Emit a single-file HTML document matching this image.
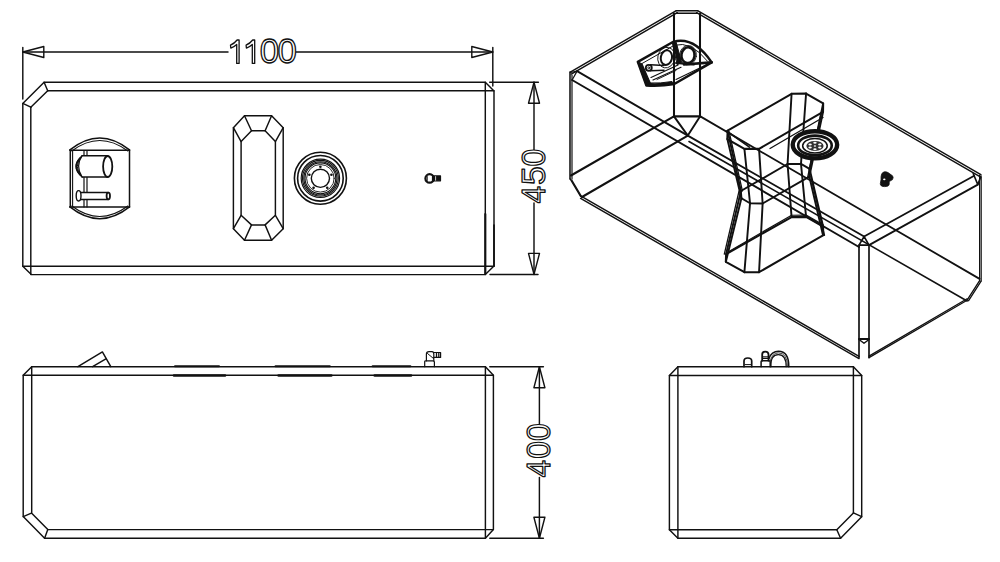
<!DOCTYPE html>
<html><head><meta charset="utf-8"><style>
html,body{margin:0;padding:0;background:#fff;width:1000px;height:562px;overflow:hidden}
svg{display:block}
</style></head><body>
<svg width="1000" height="562" viewBox="0 0 1000 562" stroke-linecap="round" stroke-linejoin="round">
<rect width="1000" height="562" fill="#fff"/>
<g>
<path d="M22.80 47.50 L22.80 99.00" stroke="#111" stroke-width="1.45" fill="none"/>
<path d="M492.80 47.50 L492.80 86.00" stroke="#111" stroke-width="1.45" fill="none"/>
<path d="M22.80 52.00 L228.00 52.00" stroke="#111" stroke-width="1.45" fill="none"/>
<path d="M296.00 52.00 L492.80 52.00" stroke="#111" stroke-width="1.45" fill="none"/>
<path d="M22.8 52 L43.8 57.5 L43.8 46.5 Z" stroke="#111" stroke-width="1.4" fill="none"/>
<path d="M492.8 52 L471.8 46.5 L471.8 57.5 Z" stroke="#111" stroke-width="1.4" fill="none"/>
<path d="M236.7 63.4 L236.7 44.4 Q234.2 46.699999999999996 230.79999999999998 48.099999999999994 L230.5 45.199999999999996 Q234.5 43.3 237.1 40.0 L239.1 40.0 L239.1 63.4 Z" stroke="#111" stroke-width="1.3" fill="#fff"/>
<path d="M252.3 63.4 L252.3 44.4 Q249.8 46.699999999999996 246.4 48.099999999999994 L246.10000000000002 45.199999999999996 Q250.10000000000002 43.3 252.70000000000002 40.0 L254.70000000000002 40.0 L254.70000000000002 63.4 Z" stroke="#111" stroke-width="1.3" fill="#fff"/>
<g transform="translate(269.5 63.0) rotate(0)"><text x="0" y="0" transform="scale(1.0 1)" font-family="Liberation Sans, sans-serif" font-size="34.8" fill="#fff" stroke="#111" stroke-width="1.3" text-anchor="middle">0</text></g>
<g transform="translate(287.2 63.0) rotate(0)"><text x="0" y="0" transform="scale(1.0 1)" font-family="Liberation Sans, sans-serif" font-size="34.8" fill="#fff" stroke="#111" stroke-width="1.3" text-anchor="middle">0</text></g>
<path d="M44.10 82.20 L485.30 82.20 L494.00 91.00 L494.00 266.00 L485.30 274.60 L31.30 274.60 L22.80 266.30 L22.80 103.40 L44.10 82.20" stroke="#111" stroke-width="1.45" fill="none"/>
<path d="M47.70 90.80 L494.00 90.80" stroke="#111" stroke-width="1.45" fill="none"/>
<path d="M44.10 82.20 L47.70 90.80" stroke="#111" stroke-width="1.45" fill="none"/>
<path d="M22.80 103.40 L30.80 107.20" stroke="#111" stroke-width="1.45" fill="none"/>
<path d="M47.70 90.80 L30.80 107.20" stroke="#111" stroke-width="1.45" fill="none"/>
<path d="M30.80 107.20 L30.80 274.60" stroke="#111" stroke-width="1.45" fill="none"/>
<path d="M485.30 82.20 L485.30 274.60" stroke="#111" stroke-width="1.45" fill="none"/>
<path d="M485.30 214.00 L485.30 274.00" stroke="#111" stroke-width="2.1" fill="none"/>
<path d="M494.00 225.00 L494.00 266.00" stroke="#111" stroke-width="1.7" fill="none"/>
<path d="M22.80 266.30 L494.00 266.30" stroke="#111" stroke-width="1.45" fill="none"/>
<path d="M489.70 82.20 L538.40 82.20" stroke="#111" stroke-width="1.45" fill="none"/>
<path d="M490.00 274.40 L538.00 274.40" stroke="#111" stroke-width="1.45" fill="none"/>
<path d="M534.00 82.20 L534.00 150.00" stroke="#111" stroke-width="1.45" fill="none"/>
<path d="M534.00 203.00 L534.00 274.40" stroke="#111" stroke-width="1.45" fill="none"/>
<path d="M534 82.2 L528.5 103.2 L539.5 103.2 Z" stroke="#111" stroke-width="1.4" fill="none"/>
<path d="M534 274.4 L539.5 253.39999999999998 L528.5 253.39999999999998 Z" stroke="#111" stroke-width="1.4" fill="none"/>
<g transform="translate(545.2 194.5) rotate(-90)"><text x="0" y="0" transform="scale(0.92 1)" font-family="Liberation Sans, sans-serif" font-size="34" fill="#fff" stroke="#111" stroke-width="1.3" text-anchor="middle">4</text></g>
<g transform="translate(545.2 175.6) rotate(-90)"><text x="0" y="0" transform="scale(1.0 1)" font-family="Liberation Sans, sans-serif" font-size="33.6" fill="#fff" stroke="#111" stroke-width="1.3" text-anchor="middle">5</text></g>
<g transform="translate(545.2 157.75) rotate(-90)"><text x="0" y="0" transform="scale(0.95 1)" font-family="Liberation Sans, sans-serif" font-size="33.6" fill="#fff" stroke="#111" stroke-width="1.3" text-anchor="middle">0</text></g>
<path d="M69.9 149.9 Q99.7 126 129.5 149.9" stroke="#111" stroke-width="1.5" fill="none"/>
<path d="M71.8 151 Q99.7 130 127.8 151" stroke="#111" stroke-width="1.1" fill="none"/>
<path d="M69.9 206.9 Q99.7 230.5 129.5 206.9" stroke="#111" stroke-width="1.5" fill="none"/>
<path d="M71.8 206 Q99.7 227 127.8 206" stroke="#111" stroke-width="1.1" fill="none"/>
<path d="M70.30 149.90 L70.30 206.90" stroke="#111" stroke-width="1.5" fill="none"/>
<path d="M129.50 149.90 L129.50 206.90" stroke="#111" stroke-width="1.5" fill="none"/>
<path d="M69.90 150.30 L129.50 150.30" stroke="#111" stroke-width="1.6" fill="none"/>
<path d="M69.90 206.90 L129.50 206.90" stroke="#111" stroke-width="1.5" fill="none"/>
<path d="M72.60 150.80 L72.60 206.90" stroke="#111" stroke-width="1.1" fill="none"/>
<path d="M84.00 150.80 L84.00 206.90" stroke="#111" stroke-width="1.2" fill="none"/>
<path d="M87.00 150.80 L87.00 206.90" stroke="#111" stroke-width="1.2" fill="none"/>
<path d="M82.1 155.7 L107.7 155.7 L107.7 177 L82.1 177 Z" stroke="#111" stroke-width="0" fill="#fff"/>
<path d="M82.10 155.70 L107.70 155.70" stroke="#111" stroke-width="1.4" fill="none"/>
<path d="M82.10 177.00 L107.70 177.00" stroke="#111" stroke-width="1.4" fill="none"/>
<path d="M82.1 155.7 Q70 166.4 82.1 177 Q75 166.4 82.1 155.7 Z" stroke="#111" stroke-width="1.2" fill="#fff"/>
<path d="M82.1 155.7 Q72.2 166.4 82.1 177" stroke="#111" stroke-width="1.0" fill="none"/>
<path d="M80.5 157.8 Q72 166.4 80.5 175" stroke="#111" stroke-width="1.6" fill="none"/>
<ellipse cx="107.7" cy="166.5" rx="4.6" ry="10.5" transform="rotate(0 107.7 166.5)" stroke="#111" stroke-width="1.8" fill="#fff"/>
<path d="M78.4 192.5 L108.3 192.5 L108.3 199.5 L78.4 199.5 Z" stroke="#111" stroke-width="0" fill="#fff"/>
<path d="M78.40 192.50 L108.30 192.50" stroke="#111" stroke-width="1.3" fill="none"/>
<path d="M78.40 199.50 L108.30 199.50" stroke="#111" stroke-width="1.3" fill="none"/>
<ellipse cx="78.6" cy="195.8" rx="2.4" ry="5.2" transform="rotate(0 78.6 195.8)" stroke="#111" stroke-width="1.4" fill="#fff"/>
<ellipse cx="108.3" cy="196" rx="1.7" ry="3.3" transform="rotate(0 108.3 196)" stroke="#111" stroke-width="1.8" fill="#fff"/>
<path d="M244.50 115.80 L271.60 115.80 L283.20 127.70 L283.20 228.70 L271.60 240.30 L244.50 240.30 L233.40 228.70 L233.40 127.70 L244.50 115.80" stroke="#111" stroke-width="1.45" fill="none"/>
<path d="M251.50 130.80 L265.10 130.80 L275.40 141.60 L275.40 215.30 L265.10 224.90 L251.50 224.90 L241.10 215.30 L241.10 141.60 L251.50 130.80" stroke="#111" stroke-width="1.45" fill="none"/>
<path d="M244.50 115.80 L251.50 130.80" stroke="#111" stroke-width="1.45" fill="none"/>
<path d="M271.60 115.80 L265.10 130.80" stroke="#111" stroke-width="1.45" fill="none"/>
<path d="M283.20 127.70 L275.40 141.60" stroke="#111" stroke-width="1.45" fill="none"/>
<path d="M283.20 228.70 L275.40 215.30" stroke="#111" stroke-width="1.45" fill="none"/>
<path d="M271.60 240.30 L265.10 224.90" stroke="#111" stroke-width="1.45" fill="none"/>
<path d="M244.50 240.30 L251.50 224.90" stroke="#111" stroke-width="1.45" fill="none"/>
<path d="M233.40 228.70 L241.10 215.30" stroke="#111" stroke-width="1.45" fill="none"/>
<path d="M233.40 127.70 L241.10 141.60" stroke="#111" stroke-width="1.45" fill="none"/>
<circle cx="320.4" cy="178.3" r="26.0" stroke="#111" stroke-width="1.6" fill="none"/>
<circle cx="320.4" cy="178.3" r="22.8" stroke="#111" stroke-width="1.6" fill="none"/>
<circle cx="320.4" cy="178.3" r="19.2" stroke="#111" stroke-width="1.15" fill="none"/>
<circle cx="320.4" cy="178.3" r="17.9" stroke="#111" stroke-width="1.15" fill="none"/>
<circle cx="320.4" cy="178.3" r="16.6" stroke="#111" stroke-width="1.15" fill="none"/>
<circle cx="320.4" cy="178.3" r="15.4" stroke="#111" stroke-width="1.15" fill="none"/>
<circle cx="320.4" cy="178.3" r="13.8" stroke="#111" stroke-width="0.9" fill="none"/>
<circle cx="320.4" cy="178.3" r="9.1" stroke="#111" stroke-width="1.4" fill="none"/>
<circle cx="320.40" cy="166.70" r="1.3" fill="#111"/>
<circle cx="331.43" cy="174.72" r="1.3" fill="#111"/>
<circle cx="327.22" cy="187.68" r="1.3" fill="#111"/>
<circle cx="313.58" cy="187.68" r="1.3" fill="#111"/>
<circle cx="309.37" cy="174.72" r="1.3" fill="#111"/>
<circle cx="429.6" cy="178.4" r="4.2" stroke="#111" stroke-width="2.2" fill="none"/>
<path d="M432.60 175.20 L432.60 181.60" stroke="#111" stroke-width="1.4" fill="none"/>
<path d="M427.20 176.50 L427.20 180.50" stroke="#111" stroke-width="1.0" fill="none"/>
<path d="M433.5 175.9 L440.5 175.9 L440.5 180.8 L433.5 180.8 Z" stroke="#111" stroke-width="1.2" fill="#111"/>
<path d="M435.60 176.60 L435.60 180.20" stroke="#fff" stroke-width="0.8" fill="none"/>
<path d="M31.70 366.70 L485.40 366.70 L493.40 375.20 L493.40 529.60 L485.40 538.20 L44.60 538.20 L23.20 516.60 L23.20 375.30 L31.70 366.70" stroke="#111" stroke-width="1.45" fill="none"/>
<path d="M23.20 375.30 L493.40 375.30" stroke="#111" stroke-width="1.45" fill="none"/>
<path d="M31.70 366.70 L31.70 513.20 L47.80 529.60 L493.40 529.60" stroke="#111" stroke-width="1.45" fill="none"/>
<path d="M485.40 366.70 L485.40 538.20" stroke="#111" stroke-width="1.45" fill="none"/>
<path d="M23.20 516.60 L31.40 513.20" stroke="#111" stroke-width="1.45" fill="none"/>
<path d="M44.60 538.20 L47.80 529.60" stroke="#111" stroke-width="1.45" fill="none"/>
<path d="M175.00 366.30 L219.00 366.30" stroke="#111" stroke-width="2.0" fill="none"/>
<path d="M275.50 366.30 L329.80 366.30" stroke="#111" stroke-width="2.0" fill="none"/>
<path d="M372.60 366.30 L410.40 366.30" stroke="#111" stroke-width="2.0" fill="none"/>
<path d="M174.00 375.50 L225.00 375.50" stroke="#111" stroke-width="2.6" fill="none"/>
<path d="M278.60 375.50 L331.30 375.50" stroke="#111" stroke-width="2.6" fill="none"/>
<path d="M374.70 375.50 L411.00 375.50" stroke="#111" stroke-width="2.6" fill="none"/>
<path d="M77.90 366.70 L102.40 351.90 L110.80 366.70" stroke="#111" stroke-width="1.45" fill="none"/>
<path d="M92.60 366.70 L105.90 358.90" stroke="#111" stroke-width="1.45" fill="none"/>
<path d="M424.7 366.7 L424.7 361.5 Q424.7 360.8 426 360.8 L433 360.8 Q434.4 360.8 434.4 362 L434.4 366.7" stroke="#111" stroke-width="1.2" fill="none"/>
<path d="M426.4 360.8 L426.4 354 Q426.4 351.7 429 351.7 L432 351.7 Q433.8 351.7 433.8 354 L433.8 360.8" stroke="#111" stroke-width="1.2" fill="none"/>
<path d="M427.50 353.50 L433.50 358.50" stroke="#111" stroke-width="1.0" fill="none"/>
<path d="M433.8 352.5 L440.6 352.5 L440.6 357.4 L433.8 357.4" stroke="#111" stroke-width="1.2" fill="none"/>
<path d="M436.50 352.80 L436.50 357.20" stroke="#111" stroke-width="1.3" fill="none"/>
<path d="M438.80 352.80 L438.80 357.20" stroke="#111" stroke-width="1.3" fill="none"/>
<path d="M489.80 366.80 L543.40 366.80" stroke="#111" stroke-width="1.45" fill="none"/>
<path d="M489.80 538.20 L543.40 538.20" stroke="#111" stroke-width="1.45" fill="none"/>
<path d="M539.40 366.80 L539.40 424.00" stroke="#111" stroke-width="1.45" fill="none"/>
<path d="M539.40 477.50 L539.40 538.20" stroke="#111" stroke-width="1.45" fill="none"/>
<path d="M539.4 366.8 L533.9 387.8 L544.9 387.8 Z" stroke="#111" stroke-width="1.4" fill="none"/>
<path d="M539.4 538.2 L544.9 517.2 L533.9 517.2 Z" stroke="#111" stroke-width="1.4" fill="none"/>
<g transform="translate(550.4 468.6) rotate(-90)"><text x="0" y="0" transform="scale(0.92 1)" font-family="Liberation Sans, sans-serif" font-size="34" fill="#fff" stroke="#111" stroke-width="1.3" text-anchor="middle">4</text></g>
<g transform="translate(550.4 449.9) rotate(-90)"><text x="0" y="0" transform="scale(0.95 1)" font-family="Liberation Sans, sans-serif" font-size="33.6" fill="#fff" stroke="#111" stroke-width="1.3" text-anchor="middle">0</text></g>
<g transform="translate(550.4 432.2) rotate(-90)"><text x="0" y="0" transform="scale(0.95 1)" font-family="Liberation Sans, sans-serif" font-size="33.6" fill="#fff" stroke="#111" stroke-width="1.3" text-anchor="middle">0</text></g>
<path d="M677.90 366.70 L853.40 366.70 L861.70 375.40 L861.70 516.70 L840.60 538.20 L677.90 538.20 L669.40 529.70 L669.40 375.40 L677.90 366.70" stroke="#111" stroke-width="1.45" fill="none"/>
<path d="M669.40 375.40 L861.70 375.40" stroke="#111" stroke-width="1.45" fill="none"/>
<path d="M677.90 366.70 L677.90 538.20" stroke="#111" stroke-width="1.45" fill="none"/>
<path d="M853.40 366.70 L853.40 512.90 L836.80 529.70 L669.40 529.70" stroke="#111" stroke-width="1.45" fill="none"/>
<path d="M853.40 512.90 L861.70 516.70" stroke="#111" stroke-width="1.45" fill="none"/>
<path d="M836.80 529.70 L840.60 538.20" stroke="#111" stroke-width="1.45" fill="none"/>
<path d="M744 366.7 L744 361 Q744 358 747.8 358 Q751.7 358 751.7 361 L751.7 366.7" stroke="#111" stroke-width="1.7" fill="none"/>
<path d="M745.00 364.60 L751.00 364.60" stroke="#111" stroke-width="1.0" fill="none"/>
<rect x="747" y="360" width="1.8" height="1.6" fill="#fff"/>
<path d="M761.1 366.7 L761.1 361.5 Q761.1 360.7 762.2 360.7 L769 360.7 Q770.2 360.7 770.2 361.8 L770.2 366.7" stroke="#111" stroke-width="1.5" fill="none"/>
<path d="M762.2 360.7 L762.2 354.5 Q762.2 351.6 765.3 351.6 Q768.5 351.6 768.5 354.5 L768.5 360.7" stroke="#111" stroke-width="1.8" fill="none"/>
<path d="M762.60 358.40 L768.20 358.40" stroke="#111" stroke-width="1.2" fill="none"/>
<path d="M762.60 356.80 L768.20 356.80" stroke="#111" stroke-width="1.0" fill="none"/>
<rect x="764.2" y="353.6" width="2" height="1.6" fill="#fff"/>
<path d="M769 358.5 Q771.5 351.3 778.5 351.3 Q788.8 351.3 788.8 366.7" stroke="#111" stroke-width="1.5" fill="none"/>
<path d="M770.2 361 Q772 353 778.4 352.9 Q787.5 352.9 787.5 366.7" stroke="#111" stroke-width="0.8" fill="none"/>
<path d="M771 366.7 Q770.5 354.6 778.3 354.6 Q786.2 354.6 786.2 366.7" stroke="#111" stroke-width="1.2" fill="none"/>
<path d="M570.30 72.10 L676.30 10.70" stroke="#111" stroke-width="1.44" fill="none"/>
<path d="M571.30 74.10 L677.30 12.70" stroke="#111" stroke-width="1.44" fill="none"/>
<path d="M676.30 10.70 L697.60 10.70" stroke="#111" stroke-width="1.44" fill="none"/>
<path d="M676.30 13.30 L697.60 13.30" stroke="#111" stroke-width="1.44" fill="none"/>
<path d="M697.60 10.70 L980.90 174.60" stroke="#111" stroke-width="1.44" fill="none"/>
<path d="M696.60 12.70 L979.90 176.60" stroke="#111" stroke-width="1.44" fill="none"/>
<path d="M674.00 13.50 L674.00 116.40" stroke="#111" stroke-width="2.04" fill="none"/>
<path d="M700.00 13.50 L700.00 116.40" stroke="#111" stroke-width="2.04" fill="none"/>
<path d="M674.00 116.40 L700.00 116.40" stroke="#111" stroke-width="2.4" fill="none"/>
<path d="M674.00 116.40 L687.80 135.60 L700.00 116.40" stroke="#111" stroke-width="1.92" fill="none"/>
<path d="M570.00 72.00 L570.00 179.00" stroke="#111" stroke-width="1.56" fill="none"/>
<path d="M572.00 75.00 L572.00 179.00" stroke="#111" stroke-width="1.2" fill="none"/>
<path d="M570.20 179.00 L580.60 196.50" stroke="#111" stroke-width="1.44" fill="none"/>
<path d="M571.70 180.00 L582.10 197.50" stroke="#111" stroke-width="1.44" fill="none"/>
<path d="M580.60 195.80 L859.00 356.30" stroke="#111" stroke-width="1.44" fill="none"/>
<path d="M580.60 198.40 L859.00 358.60" stroke="#111" stroke-width="1.44" fill="none"/>
<path d="M859.00 245.10 L859.00 357.60" stroke="#111" stroke-width="1.68" fill="none"/>
<path d="M869.00 245.10 L869.00 357.60" stroke="#111" stroke-width="1.68" fill="none"/>
<path d="M864.10 236.50 L859.00 245.10 L869.00 245.10 L864.10 236.50" stroke="#111" stroke-width="1.56" fill="none"/>
<path d="M859.00 339.00 L869.00 339.00" stroke="#111" stroke-width="1.92" fill="none"/>
<path d="M859.00 339.50 L864.00 343.30 L869.00 339.50" stroke="#111" stroke-width="1.44" fill="none"/>
<path d="M869.00 357.60 L967.10 300.20" stroke="#111" stroke-width="1.32" fill="none"/>
<path d="M869.00 356.10 L967.10 298.70" stroke="#111" stroke-width="1.32" fill="none"/>
<path d="M967.10 300.20 L979.60 280.70" stroke="#111" stroke-width="1.32" fill="none"/>
<path d="M968.60 300.70 L981.10 281.20" stroke="#111" stroke-width="1.32" fill="none"/>
<path d="M979.60 175.00 L979.60 280.70" stroke="#111" stroke-width="1.2" fill="none"/>
<path d="M981.20 177.00 L981.20 281.00" stroke="#111" stroke-width="1.2" fill="none"/>
<path d="M973.20 173.50 L977.80 184.60 L981.00 176.00" stroke="#111" stroke-width="1.62" fill="none"/>
<path d="M570.50 72.50 L577.10 71.10 L572.10 80.00" stroke="#111" stroke-width="1.2" fill="none"/>
<path d="M577.10 71.10 L687.80 135.60" stroke="#111" stroke-width="1.7999999999999998" fill="none"/>
<path d="M687.80 135.60 L864.10 236.50" stroke="#111" stroke-width="1.7999999999999998" fill="none"/>
<path d="M572.10 80.00 L859.00 247.00" stroke="#111" stroke-width="1.92" fill="none"/>
<path d="M864.10 236.50 L974.20 175.70" stroke="#111" stroke-width="1.7999999999999998" fill="none"/>
<path d="M869.00 245.10 L977.80 184.60" stroke="#111" stroke-width="1.7999999999999998" fill="none"/>
<path d="M571.00 175.50 L673.90 116.40" stroke="#111" stroke-width="2.04" fill="none"/>
<path d="M582.00 197.00 L687.80 135.60" stroke="#111" stroke-width="2.04" fill="none"/>
<path d="M700.30 116.40 L979.60 278.90" stroke="#111" stroke-width="1.7999999999999998" fill="none"/>
<path d="M689.00 141.50 L967.10 301.00" stroke="#111" stroke-width="1.56" fill="none"/>
<path d="M806.08 93.55 L823.16 103.41 L823.02 111.94 L759.05 148.88 L744.41 148.88 L727.34 139.02 L727.61 130.72 L791.58 93.79 L806.08 93.55" stroke="#111" stroke-width="2.04" fill="none"/>
<path d="M800.98 163.88 L809.60 168.86 L809.31 176.58 L762.63 203.52 L750.03 203.26 L741.41 198.28 L740.89 190.97 L787.57 164.02 L800.98 163.88" stroke="#111" stroke-width="1.92" fill="none"/>
<path d="M806.08 216.87 L823.16 226.73 L823.02 235.26 L759.05 272.20 L744.41 272.20 L725.84 261.84 L726.11 254.04 L791.58 217.11 L806.08 216.87" stroke="#111" stroke-width="2.04" fill="none"/>
<path d="M806.08 93.55 L800.98 163.88" stroke="#111" stroke-width="1.92" fill="none"/>
<path d="M800.98 163.88 L806.08 216.87" stroke="#111" stroke-width="1.92" fill="none"/>
<path d="M823.16 103.41 L809.60 168.86" stroke="#111" stroke-width="1.92" fill="none"/>
<path d="M809.60 168.86 L823.16 226.73" stroke="#111" stroke-width="1.92" fill="none"/>
<path d="M823.02 111.94 L809.31 176.58" stroke="#111" stroke-width="1.92" fill="none"/>
<path d="M809.31 176.58 L823.02 235.26" stroke="#111" stroke-width="1.92" fill="none"/>
<path d="M759.05 148.88 L762.63 203.52" stroke="#111" stroke-width="1.92" fill="none"/>
<path d="M762.63 203.52 L759.05 272.20" stroke="#111" stroke-width="1.92" fill="none"/>
<path d="M744.41 148.88 L750.03 203.26" stroke="#111" stroke-width="1.92" fill="none"/>
<path d="M750.03 203.26 L744.41 272.20" stroke="#111" stroke-width="1.92" fill="none"/>
<path d="M727.34 139.02 L741.41 198.28" stroke="#111" stroke-width="1.92" fill="none"/>
<path d="M741.41 198.28 L725.84 261.84" stroke="#111" stroke-width="1.92" fill="none"/>
<path d="M727.61 130.72 L740.89 190.97" stroke="#111" stroke-width="1.92" fill="none"/>
<path d="M740.89 190.97 L726.11 254.04" stroke="#111" stroke-width="1.92" fill="none"/>
<path d="M791.58 93.79 L787.57 164.02" stroke="#111" stroke-width="1.92" fill="none"/>
<path d="M787.57 164.02 L791.58 217.11" stroke="#111" stroke-width="1.92" fill="none"/>
<path d="M726.70 131.00 L749.40 147.10" stroke="#111" stroke-width="1.56" fill="none"/>
<path d="M770.00 148.50 L823.00 117.50" stroke="#111" stroke-width="1.32" fill="none"/>
<path d="M729.11 131.72 L742.39 190.97" stroke="#111" stroke-width="1.32" fill="none"/>
<path d="M739.09 190.97 L724.31 254.04" stroke="#111" stroke-width="1.32" fill="none"/>
<path d="M821.52 111.94 L807.81 176.58" stroke="#111" stroke-width="1.32" fill="none"/>
<path d="M810.81 176.58 L824.52 235.26" stroke="#111" stroke-width="1.32" fill="none"/>
<path d="M727.61 252.16 L791.58 215.23 L806.08 215.00 L823.16 224.86 L823.02 233.38" stroke="#111" stroke-width="1.2" fill="none"/>
<ellipse cx="814.94726" cy="144.77999999999997" rx="22.2" ry="13.6" transform="rotate(0 814.94726 144.77999999999997)" stroke="#111" stroke-width="4.4" fill="#fff"/>
<ellipse cx="814.94726" cy="145.48" rx="16.8" ry="9.9" transform="rotate(0 814.94726 145.48)" stroke="#111" stroke-width="2.6" fill="none"/>
<ellipse cx="814.94726" cy="145.77999999999997" rx="12.3" ry="7.3" transform="rotate(0 814.94726 145.77999999999997)" stroke="#111" stroke-width="1.5" fill="none"/>
<ellipse cx="814.94726" cy="145.98" rx="8.6" ry="5.1" transform="rotate(0 814.94726 145.98)" stroke="#111" stroke-width="0" fill="#333"/>
<ellipse cx="819.80" cy="147.58" rx="1.7" ry="1.0" fill="#fff"/>
<ellipse cx="814.95" cy="149.18" rx="1.7" ry="1.0" fill="#fff"/>
<ellipse cx="810.10" cy="147.58" rx="1.7" ry="1.0" fill="#fff"/>
<ellipse cx="810.10" cy="144.38" rx="1.7" ry="1.0" fill="#fff"/>
<ellipse cx="814.95" cy="142.78" rx="1.7" ry="1.0" fill="#fff"/>
<ellipse cx="819.80" cy="144.38" rx="1.7" ry="1.0" fill="#fff"/>
<ellipse cx="814.95" cy="145.98" rx="1.2" ry="0.8" fill="#fff"/>
<path d="M881 179.5 Q880.5 172.5 884.5 171.8 Q886.5 171.6 888 172.6 L892.5 175.8 Q893.8 177.5 892.5 179.6 L889.2 181.6 L889.2 184.3 Q889 186.6 884.5 186.6 Q880.3 186.5 880.3 184 Z" stroke="#111" stroke-width="0.8" fill="#111"/>
<ellipse cx="884.3" cy="179.4" rx="1.2" ry="0.8" fill="#fff"/>
<path d="M637.8 61.9 L673.3 41.8 Q694 36 711.7 62.4 L674.3 84 Q660 86.5 646.4 85.5 Z" stroke="#111" stroke-width="2.4" fill="none"/>
<path d="M641.5 63.8 L674.2 45.3 Q691 40.5 707.5 61.2" stroke="#111" stroke-width="1.0" fill="none"/>
<path d="M637.8 61.9 L646.4 85.5 L651 84.8 L642 64 Z" stroke="#111" stroke-width="1.2" fill="#111"/>
<path d="M646.4 85.5 Q660 86.5 674.3 84 L672 81.5 Q660 83.6 650.5 83 Z" stroke="#111" stroke-width="1.0" fill="#111"/>
<path d="M684.00 64.50 L711.70 62.40" stroke="#111" stroke-width="2.64" fill="none"/>
<path d="M676.00 79.50 L708.00 64.00" stroke="#111" stroke-width="1.08" fill="none"/>
<path d="M672.6 42.5 L676.2 42.2 L681.5 62.5 L677.5 64.5 Z" stroke="#111" stroke-width="1.0" fill="#111"/>
<ellipse cx="666.4" cy="57.6" rx="8.6" ry="10.4" transform="rotate(12 666.4 57.6)" stroke="#111" stroke-width="0.9" fill="none"/>
<ellipse cx="666.4" cy="57.6" rx="5.6" ry="7.4" transform="rotate(12 666.4 57.6)" stroke="#111" stroke-width="2.0" fill="none"/>
<ellipse cx="688.0" cy="55.2" rx="6.6" ry="7.9" transform="rotate(8 688.0 55.2)" stroke="#111" stroke-width="2.6" fill="none"/>
<ellipse cx="688.0" cy="55.2" rx="8.4" ry="9.8" transform="rotate(8 688.0 55.2)" stroke="#111" stroke-width="0.8" fill="none"/>
<path d="M676.00 63.00 L694.00 64.50" stroke="#111" stroke-width="1.92" fill="none"/>
<circle cx="648.8" cy="67.8" r="3.0" stroke="#111" stroke-width="1.8" fill="none"/>
<circle cx="648.8" cy="67.8" r="1.0" stroke="#111" stroke-width="0.9" fill="none"/>
<path d="M650.50 64.80 L664.00 65.50" stroke="#111" stroke-width="1.56" fill="none"/>
<path d="M650.50 70.80 L664.00 70.20" stroke="#111" stroke-width="1.56" fill="none"/>
<path d="M651.00 77.50 L678.00 65.00" stroke="#111" stroke-width="1.2" fill="none"/>
<path d="M653.00 80.00 L681.00 67.30" stroke="#111" stroke-width="1.2" fill="none"/>
<path d="M657.00 79.50 L676.00 70.50" stroke="#111" stroke-width="0.96" fill="none"/>
</g></svg></body></html>
